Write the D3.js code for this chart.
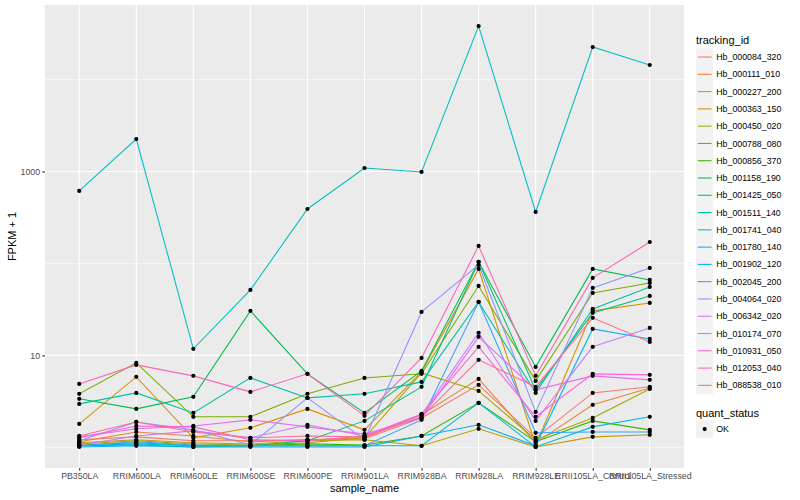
<!DOCTYPE html>
<html>
<head>
<meta charset="utf-8">
<script src="https://cdn.jsdelivr.net/npm/d3@7"></script>
<style>
  body { margin: 0; background: #ffffff; }
  svg { display: block; font-family: "Liberation Sans", Arial, Helvetica, sans-serif; }
</style>
</head>
<body>
<div id="chart"></div>
<script>
const samples = ["PB350LA", "RRIM600LA", "RRIM600LE", "RRIM600SE", "RRIM600PE", "RRIM901LA",
                 "RRIM928BA", "RRIM928LA", "RRIM928LE", "RRII105LA_Control", "RRII105LA_Stressed"];
const trackingIds = ["Hb_000084_320", "Hb_000111_010", "Hb_000227_200", "Hb_000363_150", "Hb_000450_020",
                     "Hb_000788_080", "Hb_000856_370", "Hb_001158_190", "Hb_001425_050", "Hb_001511_140",
                     "Hb_001741_040", "Hb_001780_140", "Hb_001902_120", "Hb_002045_200", "Hb_004064_020",
                     "Hb_006342_020", "Hb_010174_070", "Hb_010931_050", "Hb_012053_040", "Hb_088538_010"];
const seriesColors = ["#F8766D", "#EA8331", "#D89000", "#C09B00", "#A3A500", "#7CAE00", "#39B600", "#00BB4E",
                      "#00BF7D", "#00C1A3", "#00BFC4", "#00BAE0", "#00B0F6", "#35A2FF", "#9590FF", "#C77CFF",
                      "#E76BF3", "#FA62DB", "#FF62BC", "#FF6C91"];
const quantStatus = ["OK"];
const yBreaks = [10, 1000];
const yMinorBreaks = [1, 100, 10000];

// FPKM + 1, one value per sample (same order as samples)
const hb_000084_320 = [1.21, 1.30, 1.18, 1.18, 1.21, 1.24, 2.09, 4.78, 1.27, 3.91, 4.55];
const hb_000111_010 = [1.15, 1.47, 1.33, 1.15, 1.21, 1.27, 2.26, 5.55, 1.12, 2.90, 4.43];
const hb_000227_200 = [1.80, 5.84, 1.27, 1.63, 2.62, 1.55, 6.62, 87.1, 1.06, 30.5, 37.2];
const hb_000363_150 = [1.12, 1.21, 1.12, 1.09, 1.18, 1.21, 1.04, 1.59, 1.01, 1.30, 1.37];
const hb_000450_020 = [1.09, 1.18, 1.09, 1.06, 1.12, 1.27, 6.45, 4.11, 1.21, 2.09, 4.32];
const hb_000788_080 = [3.82, 8.29, 2.15, 2.15, 3.82, 5.69, 6.30, 56.9, 5.28, 47.8, 61.4];
const hb_000856_370 = [1.06, 1.12, 1.04, 1.04, 1.09, 1.06, 1.33, 3.05, 1.15, 1.94, 1.55];
const hb_001158_190 = [3.37, 2.62, 3.54, 30.5, 6.30, 2.37, 6.78, 104, 7.50, 87.1, 66.2];
const hb_001425_050 = [1.04, 1.06, 1.01, 1.04, 1.18, 1.94, 4.55, 104, 4.22, 29.0, 44.3];
const hb_001511_140 = [2.97, 3.91, 2.37, 5.69, 3.45, 3.82, 5.15, 38.1, 3.91, 32.0, 55.5];
const hb_001741_040 = [614, 2256, 11.8, 51.5, 391, 1091, 988, 38150, 363, 22560, 14380];
const hb_001780_140 = [1.04, 1.09, 1.04, 1.04, 1.04, 1.04, 1.04, 3.05, 1.01, 1.67, 2.15];
const hb_001902_120 = [1.01, 1.04, 1.01, 1.01, 1.01, 1.01, 1.33, 1.76, 1.04, 19.4, 15.1];
const hb_002045_200 = [1.04, 1.15, 1.06, 1.04, 1.04, 1.04, 1.99, 38.1, 1.44, 1.47, 1.47];
const hb_004064_020 = [1.18, 1.89, 1.55, 1.06, 3.45, 1.21, 29.7, 96.3, 2.43, 54.2, 89.4];
const hb_006342_020 = [1.06, 1.33, 1.51, 1.27, 1.76, 1.33, 2.26, 17.6, 1.94, 12.4, 19.9];
const hb_010174_070 = [1.30, 1.59, 1.71, 1.99, 1.67, 1.40, 2.09, 15.9, 4.22, 5.99, 5.42];
const hb_010931_050 = [1.27, 1.71, 1.67, 1.21, 1.18, 1.33, 2.31, 12.4, 2.15, 6.30, 6.14];
const hb_012053_040 = [4.90, 7.88, 5.99, 4.01, 6.30, 2.20, 9.39, 155, 5.99, 69.6, 171];
const hb_088538_010 = [1.33, 1.89, 1.47, 1.27, 1.33, 1.30, 2.15, 8.94, 4.55, 25.6, 14.0];

const seriesValues = [hb_000084_320, hb_000111_010, hb_000227_200, hb_000363_150, hb_000450_020,
                      hb_000788_080, hb_000856_370, hb_001158_190, hb_001425_050, hb_001511_140,
                      hb_001741_040, hb_001780_140, hb_001902_120, hb_002045_200, hb_004064_020,
                      hb_006342_020, hb_010174_070, hb_010931_050, hb_012053_040, hb_088538_010];

const width = 800, height = 500;
const panel = {left: 45, right: 684, top: 5, bottom: 468};
const legendX = 696, keySize = 17.28;

const svg = d3.select("#chart")
              .append("svg")
              .attr("width", width)
              .attr("height", height);

const x = d3.scalePoint()
            .domain(samples)
            .range([panel.left, panel.right])
            .padding(0.6); // ggplot's discrete expansion

// log10 scale, 5% expansion in log space like scale_y_log10
let allValues = seriesValues.flat();
let lo = Math.log10(d3.min(allValues)), hi = Math.log10(d3.max(allValues));
let pad = (hi - lo) * 0.05;
const y = d3.scaleLog()
            .domain([Math.pow(10, lo - pad), Math.pow(10, hi + pad)])
            .range([panel.bottom, panel.top]);

svg.append("rect")
   .attr("x", panel.left)
   .attr("y", panel.top)
   .attr("width", panel.right - panel.left)
   .attr("height", panel.bottom - panel.top)
   .attr("fill", "#EBEBEB");

// grid lines
svg.selectAll("line.minor")
   .data(yMinorBreaks)
   .enter()
   .append("line")
   .attr("class", "minor")
   .attr("x1", panel.left).attr("x2", panel.right)
   .attr("y1", d => y(d)).attr("y2", d => y(d))
   .attr("stroke", "#ffffff")
   .attr("stroke-width", 0.6);
svg.selectAll("line.major")
   .data(yBreaks)
   .enter()
   .append("line")
   .attr("class", "major")
   .attr("x1", panel.left).attr("x2", panel.right)
   .attr("y1", d => y(d)).attr("y2", d => y(d))
   .attr("stroke", "#ffffff")
   .attr("stroke-width", 1.1);
svg.selectAll("line.vmajor")
   .data(samples)
   .enter()
   .append("line")
   .attr("class", "vmajor")
   .attr("x1", d => x(d)).attr("x2", d => x(d))
   .attr("y1", panel.top).attr("y2", panel.bottom)
   .attr("stroke", "#ffffff")
   .attr("stroke-width", 1.1);

// one line per tracking id
let line = d3.line()
             .x((d, i) => x(samples[i]))
             .y(d => y(d));
svg.append("g")
   .selectAll("path")
   .data(seriesValues)
   .enter()
   .append("path")
   .attr("d", line)
   .attr("fill", "none")
   .attr("stroke", (d, i) => seriesColors[i])
   .attr("stroke-width", 1.07);

// points, all quant_status OK
svg.append("g")
   .selectAll("circle")
   .data(seriesValues.flatMap(vals => vals.map((v, i) => ({sample: samples[i], value: v}))))
   .enter()
   .append("circle")
   .attr("cx", d => x(d.sample))
   .attr("cy", d => y(d.value))
   .attr("r", 2.1)
   .attr("fill", "#000000");

// axes
function styleAxis(g) {
  g.attr("font-family", null).attr("font-size", null);
  g.select(".domain").remove();
  g.selectAll("line").attr("stroke", "#333333").attr("stroke-width", 1.07);
  g.selectAll("text").attr("fill", "#4D4D4D").style("font-size", "8.8px");
}
svg.append("g")
   .attr("transform", `translate(${panel.left},0)`)
   .call(d3.axisLeft(y).tickValues(yBreaks).tickFormat(d3.format("d")).tickSize(2.75).tickPadding(2.2))
   .call(styleAxis);
svg.append("g")
   .attr("transform", `translate(0,${panel.bottom})`)
   .call(d3.axisBottom(x).tickSize(2.75).tickPadding(2.2))
   .call(styleAxis);

svg.append("text")
   .attr("x", (panel.left + panel.right) / 2)
   .attr("y", 492)
   .attr("text-anchor", "middle")
   .style("font-size", "11px")
   .text("sample_name");
svg.append("text")
   .attr("transform", `translate(12.5,${(panel.top + panel.bottom) / 2}) rotate(-90)`)
   .attr("dy", "0.35em")
   .attr("text-anchor", "middle")
   .style("font-size", "11px")
   .text("FPKM + 1");

// legend: tracking_id
svg.append("text")
   .attr("x", legendX)
   .attr("y", 44)
   .style("font-size", "11px")
   .text("tracking_id");
let keys = svg.append("g")
              .selectAll("g")
              .data(trackingIds)
              .enter()
              .append("g")
              .attr("transform", (d, i) => `translate(${legendX},${48.4 + i * keySize})`);
keys.append("rect")
    .attr("width", keySize)
    .attr("height", keySize)
    .attr("fill", "#F2F2F2");
keys.append("line")
    .attr("x1", keySize * 0.1).attr("x2", keySize * 0.9)
    .attr("y1", keySize / 2).attr("y2", keySize / 2)
    .attr("stroke", (d, i) => seriesColors[i])
    .attr("stroke-width", 1.07);
keys.append("text")
    .attr("x", keySize + 3)
    .attr("y", keySize / 2)
    .attr("dy", "0.35em")
    .style("font-size", "8.8px")
    .text(d => d);

// legend: quant_status
svg.append("text")
   .attr("x", legendX)
   .attr("y", 417)
   .style("font-size", "11px")
   .text("quant_status");
let statusKeys = svg.append("g")
                    .selectAll("g")
                    .data(quantStatus)
                    .enter()
                    .append("g")
                    .attr("transform", (d, i) => `translate(${legendX},${420.4 + i * keySize})`);
statusKeys.append("rect")
          .attr("width", keySize)
          .attr("height", keySize)
          .attr("fill", "#F2F2F2");
statusKeys.append("circle")
          .attr("cx", keySize / 2)
          .attr("cy", keySize / 2)
          .attr("r", 2.1)
          .attr("fill", "#000000");
statusKeys.append("text")
          .attr("x", keySize + 3)
          .attr("y", keySize / 2)
          .attr("dy", "0.35em")
          .style("font-size", "8.8px")
          .text(d => d);
</script>
</body>
</html>
